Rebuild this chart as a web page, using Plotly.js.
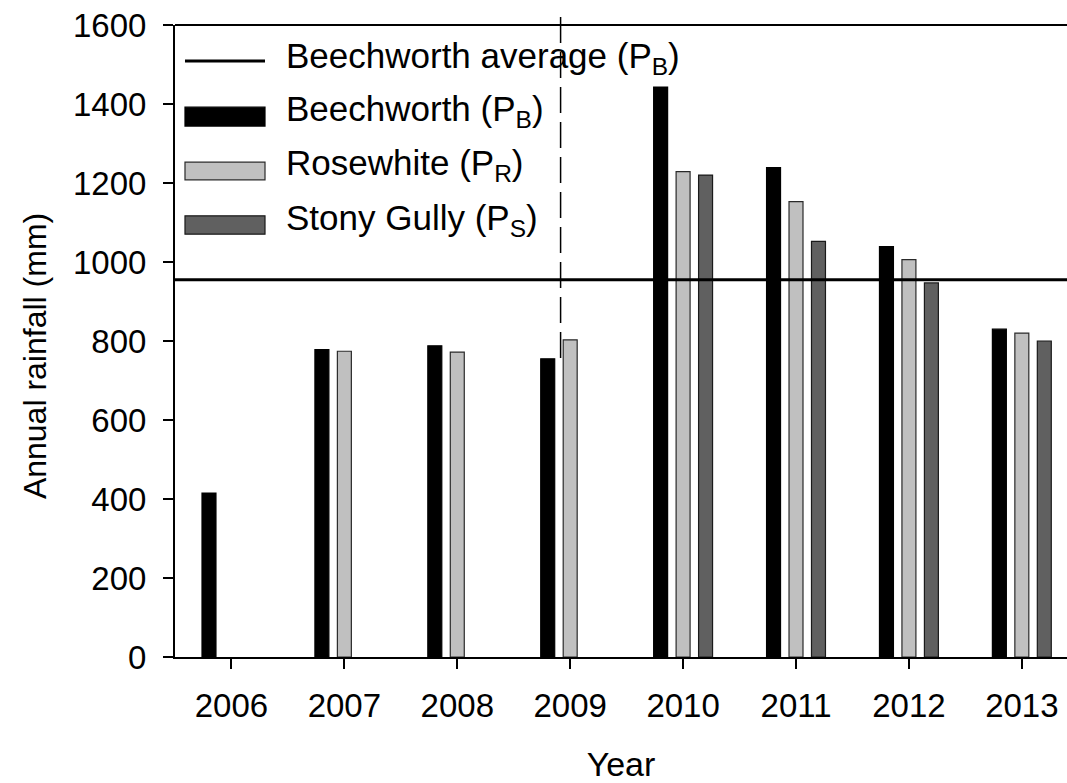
<!DOCTYPE html>
<html>
<head>
<meta charset="utf-8">
<script src="https://cdn.plot.ly/plotly-3.0.1.min.js"></script>
<style>
  html, body { margin: 0; padding: 0; background: #fff; }
  #chart { width: 1067px; height: 783px; }
</style>
</head>
<body>
<div id="chart"></div>
<script>
// Annual rainfall totals (mm) per site
const years = ['2006', '2007', '2008', '2009', '2010', '2011', '2012', '2013'];
const beechworth = [415, 778, 788, 755, 1443, 1239, 1039, 830];
const rosewhite = [null, 774, 772, 803, 1229, 1153, 1006, 820];
const stonyGully = [null, null, null, null, 1220, 1052, 947, 800];
const beechworthAverage = 955;

// Legend labels
const seriesNames = [
  'Beechworth average (P<sub>B</sub>)',
  'Beechworth (P<sub>B</sub>)',
  'Rosewhite (P<sub>R</sub>)',
  'Stony Gully (P<sub>S</sub>)'
];

const FONT = 'Liberation Sans, Arial, sans-serif';

function barTrace(name, values, fill, edge) {
  return {
    type: 'bar',
    name: name,
    x: years,
    y: values,
    marker: { color: fill, line: { color: edge, width: 1.2 } },
    showlegend: false,
    hoverinfo: 'x+y'
  };
}

const traces = [
  barTrace(seriesNames[1], beechworth, '#000000', '#000000'),
  barTrace(seriesNames[2], rosewhite, '#c0c0c0', '#2a2a2a'),
  barTrace(seriesNames[3], stonyGully, '#606060', '#1a1a1a')
];

// Hand-built legend: long swatches on the left, labels beside them
const legendX0 = 0.0112, legendX1 = 0.1009, labelX = 0.1222;
const legendRows = [
  { kind: 'line', y: 0.943, label: seriesNames[0], ty: 0.948 },
  { kind: 'box', y0: 0.840, y1: 0.870, fill: '#000000', edge: '#000000', label: seriesNames[1], ty: 0.864 },
  { kind: 'box', y0: 0.755, y1: 0.783, fill: '#c0c0c0', edge: '#2a2a2a', label: seriesNames[2], ty: 0.779 },
  { kind: 'box', y0: 0.669, y1: 0.698, fill: '#606060', edge: '#1a1a1a', label: seriesNames[3], ty: 0.692 }
];

const shapes = [
  // top frame line
  { type: 'line', xref: 'paper', yref: 'paper', x0: 0, x1: 1, y0: 1, y1: 1,
    line: { color: '#000', width: 2 } },
  // long-term Beechworth mean
  { type: 'line', xref: 'paper', yref: 'y', x0: 0, x1: 1,
    y0: beechworthAverage, y1: beechworthAverage,
    line: { color: '#000', width: 3 }, layer: 'above' },
  // dashed divider between 2009 bars
  { type: 'line', xref: 'x', yref: 'paper', x0: 2.915, x1: 2.915, y0: 0.473, y1: 1.0206,
    line: { color: '#000', width: 1.5, dash: '26px,9px' }, layer: 'above' }
];
const annotations = [];

legendRows.forEach(function (r) {
  if (r.kind === 'line') {
    shapes.push({ type: 'line', xref: 'paper', yref: 'paper',
      x0: legendX0, x1: legendX1, y0: r.y, y1: r.y,
      line: { color: '#000', width: 3 } });
  } else {
    shapes.push({ type: 'rect', xref: 'paper', yref: 'paper',
      x0: legendX0, x1: legendX1, y0: r.y0, y1: r.y1,
      fillcolor: r.fill, line: { color: r.edge, width: 1.2 } });
  }
  annotations.push({ xref: 'paper', yref: 'paper', x: labelX, y: r.ty,
    xanchor: 'left', yanchor: 'middle', showarrow: false, text: r.label,
    font: { family: FONT, size: 35, color: '#000' } });
});

// Y axis title, set slightly below the plot's vertical centre
annotations.push({ xref: 'paper', yref: 'paper', x: -0.157, y: 0.476,
  xanchor: 'center', yanchor: 'middle', textangle: -90, showarrow: false,
  text: 'Annual rainfall (mm)', font: { family: FONT, size: 32, color: '#000' } });

const layout = {
  width: 1067,
  height: 783,
  margin: { l: 175, r: 0, t: 25, b: 126 },
  paper_bgcolor: '#fff',
  plot_bgcolor: '#fff',
  barmode: 'group',
  bargap: 0.403,
  bargroupgap: 0.378,
  showlegend: false,
  xaxis: {
    type: 'category',
    range: [-0.5, 7.4],
    showline: true, linecolor: '#000', linewidth: 2,
    ticks: 'outside', ticklen: 10, tickwidth: 2, tickcolor: '#000',
    ticklabelstandoff: 8,
    showgrid: false, zeroline: false,
    tickfont: { family: FONT, size: 33, color: '#000' },
    title: { text: 'Year', standoff: 34, font: { family: FONT, size: 34, color: '#000' } }
  },
  yaxis: {
    range: [0, 1600],
    dtick: 200,
    showline: true, linecolor: '#000', linewidth: 2,
    ticks: 'outside', ticklen: 10, tickwidth: 2, tickcolor: '#000',
    ticklabelstandoff: 10,
    showgrid: false, zeroline: false,
    tickfont: { family: FONT, size: 33, color: '#000' }
  },
  shapes: shapes,
  annotations: annotations
};

Plotly.newPlot('chart', traces, layout, { displayModeBar: false, staticPlot: true });
</script>
</body>
</html>
